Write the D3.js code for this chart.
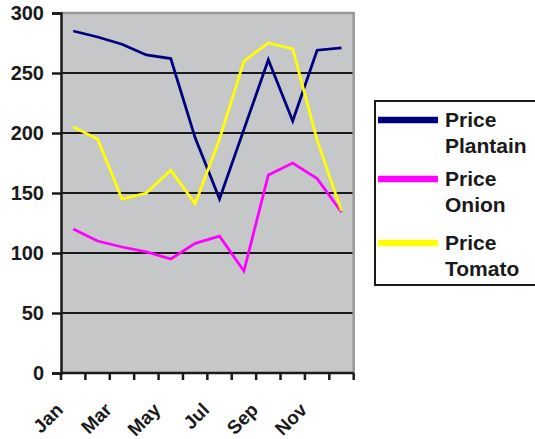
<!DOCTYPE html>
<html><head><meta charset="utf-8">
<script src="https://cdn.jsdelivr.net/npm/d3@7"></script>
<style>body{margin:0;background:#fff}svg{display:block}</style>
</head><body>
<script>
const months = ["Jan","Feb","Mar","Apr","May","Jun","Jul","Aug","Sep","Oct","Nov","Dec"];
const pricePlantain = [285,280,274,265,262,196,145,203,261,210,269,271];
const priceOnion    = [120,110,105,101,95,108,114,85,165,175,162,134];
const priceTomato   = [205,195,145,150,169,141,195,260,275,270,194,135];
const yTicks = [0,50,100,150,200,250,300];
const seriesNames = ["Price Plantain","Price Onion","Price Tomato"];
const seriesColors = ["#000080","#ff00ff","#ffff00"];

const W=535,H=439;
const L=61, T=13, R=353.7, B=373;
const svg=d3.select("body").append("svg").attr("width",W).attr("height",H);
const x=d3.scaleBand().domain(months).range([L,R]).padding(0);
const y=d3.scaleLinear().domain([0,300]).range([B,T]);

svg.append("rect").attr("x",L).attr("y",T).attr("width",R-L).attr("height",B-T).attr("fill","#c6c7c9");
// gridlines
svg.append("g").selectAll("line").data(yTicks.filter(d=>d>0&&d<300)).join("line")
 .attr("x1",L).attr("x2",R).attr("y1",d=>y(d)).attr("y2",d=>y(d)).attr("stroke","#1a1a1a").attr("stroke-width",2);
// top/right border
svg.append("path").attr("d",`M${L},${y(300)}H${R}V${B}`).attr("fill","none").attr("stroke","#999").attr("stroke-width",2.5);

// lines
const data=[pricePlantain,priceOnion,priceTomato];
const line=d3.line().x((d,i)=>x(months[i])+x.bandwidth()/2).y(d=>y(d));
data.forEach((s,k)=>{
 svg.append("path").datum(s).attr("d",line).attr("fill","none").attr("stroke",seriesColors[k]).attr("stroke-width",2.8).attr("stroke-linejoin","miter");
});

// y axis
const ya=d3.axisLeft(y).tickValues(yTicks).tickSize(9).tickPadding(8);
const gy=svg.append("g").attr("transform",`translate(${L},0)`).call(ya);
gy.select(".domain").attr("stroke","#1a1a1a").attr("stroke-width",2.5);
gy.selectAll(".tick line").attr("stroke","#1a1a1a").attr("stroke-width",2.5);
gy.selectAll("text").attr("font-family","Liberation Sans, Arial, sans-serif").attr("font-weight","bold").attr("font-size",20).attr("fill","#1a1a1a");

// x axis
const xa=svg.append("g").attr("transform",`translate(0,${B})`);
xa.append("line").attr("x1",L).attr("x2",R).attr("stroke","#1a1a1a").attr("stroke-width",2.5);
const bounds=months.map(m=>x(m)).concat([R]);
xa.selectAll(".tk").data(bounds).join("line").attr("class","tk").attr("x1",d=>d).attr("x2",d=>d).attr("y1",0).attr("y2",7).attr("stroke","#1a1a1a").attr("stroke-width",2.5);
xa.selectAll("text").data(months.filter((m,i)=>i%2===0)).join("text")
 .attr("transform",d=>`translate(${x(d)+x.bandwidth()/2-9},${38}) rotate(-45)`)
 .attr("text-anchor","end").attr("font-family","Liberation Sans, Arial, sans-serif").attr("font-weight","bold").attr("font-size",19).attr("fill","#1a1a1a").text(d=>d);

// legend
const lg=svg.append("g");
lg.append("rect").attr("x",375).attr("y",101).attr("width",170).attr("height",184).attr("fill","#fff").attr("stroke","#1a1a1a").attr("stroke-width",2);
const ly=[120,179,243];
seriesNames.forEach((n,k)=>{
 lg.append("line").attr("x1",378).attr("x2",438).attr("y1",ly[k]).attr("y2",ly[k]).attr("stroke",seriesColors[k]).attr("stroke-width",6.5);
 const parts=n.split(" ");
 const t=lg.append("text").attr("x",445).attr("y",ly[k]+7).attr("font-family","Liberation Sans, Arial, sans-serif").attr("font-weight","bold").attr("font-size",21).attr("fill","#1a1a1a");
 t.append("tspan").attr("x",445).text(parts[0]);
 t.append("tspan").attr("x",445).attr("dy",26).text(parts[1]);
});
</script>
</body></html>
